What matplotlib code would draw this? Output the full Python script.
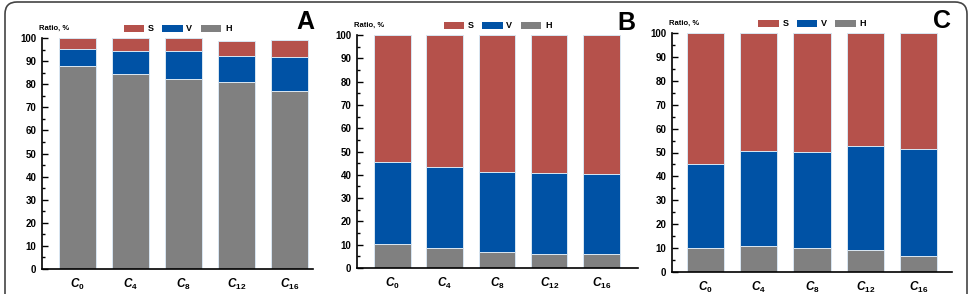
import numpy as np
import matplotlib.pyplot as plt
from matplotlib.patches import FancyBboxPatch
from matplotlib.transforms import IdentityTransform

plt.rcParams['font.family'] = ['Liberation Sans', 'DejaVu Sans']
plt.rcParams['font.weight'] = 'bold'
plt.rcParams['mathtext.fontset'] = 'custom'
plt.rcParams['mathtext.rm'] = 'Liberation Sans:bold'
plt.rcParams['mathtext.it'] = 'Liberation Sans:italic:bold'
plt.rcParams['mathtext.bf'] = 'Liberation Sans:bold'

# Data (ratio, %)
categories = ['0', '4', '8', '12', '16']
series = ['S', 'V', 'H']

A_H = [88.0, 84.3, 82.2, 81.1, 77.2]
A_V = [7.1, 10.1, 12.2, 11.2, 14.7]
A_S = [4.9, 5.6, 5.6, 6.5, 7.1]

B_H = [10.3, 8.6, 6.7, 6.1, 6.0]
B_V = [35.0, 34.7, 34.3, 34.6, 34.4]
B_S = [54.7, 56.7, 59.0, 59.3, 59.6]

C_H = [9.9, 10.9, 9.9, 9.4, 6.9]
C_V = [35.4, 39.7, 40.4, 43.3, 44.6]
C_S = [54.7, 49.4, 49.7, 47.3, 48.5]

colors = {'S': '#b5514b', 'V': '#0052a5', 'H': '#808080'}

W, H = 969, 294
fig = plt.figure(figsize=(W / 100, H / 100), dpi=100)

# axes boxes in pixels: left, right, top(y of 100), bottom(y of 0); xlim
panels = [
    ('A', A_H, A_V, A_S, (42, 313, 38, 269), (-0.675, 4.45), (305, 22)),
    ('B', B_H, B_V, B_S, (357, 638, 35, 268), (-0.68, 4.70), (626, 23)),
    ('C', C_H, C_V, C_S, (672, 952, 33, 272), (-0.63, 4.63), (942, 21)),
]

x = np.arange(len(categories))
xlabels = [r'$C_{\mathrm{%s}}$' % c for c in categories]

for letter, h, v, s, (l, r, t, b), xlim, (lx, ly) in panels:
    ax = fig.add_axes([l / W, 1 - b / H, (r - l) / W, (b - t) / H])
    h = np.array(h)
    v = np.array(v)
    s = np.array(s)
    ec = dict(edgecolor='#d8e6f2', linewidth=0.7)
    ax.bar(x, s, 0.7, bottom=h + v, color=colors['S'], label='S', **ec)
    ax.bar(x, v, 0.7, bottom=h, color=colors['V'], label='V', **ec)
    ax.bar(x, h, 0.7, color=colors['H'], label='H', **ec)

    ax.set_xlim(*xlim)
    ax.set_ylim(0, 100)
    ax.set_yticks(np.arange(0, 101, 10))
    ax.set_yticks(np.arange(5, 100, 10), minor=True)
    ax.set_xticks(x)
    ax.set_xticklabels(xlabels, fontsize=8.5)
    ax.tick_params(axis='x', length=0, pad=6)
    ax.tick_params(axis='y', which='major', direction='in', length=4, width=1, labelsize=7, pad=4)
    ax.tick_params(axis='y', which='minor', direction='in', length=2.5, width=1)
    for sp in ['top', 'right']:
        ax.spines[sp].set_visible(False)
    for sp in ['left', 'bottom']:
        ax.spines[sp].set_linewidth(1.2)

    leg = ax.legend(ncol=3, loc='lower center', bbox_to_anchor=(0.5, 1.0), frameon=False,
                    fontsize=6.5, handlelength=2.3, handleheight=0.85, handletextpad=0.4,
                    columnspacing=0.9, borderaxespad=0.1)
    for hd in leg.legend_handles:
        hd.set_linewidth(0)

    fig.text((l - 3) / W, 1 - (t - 10) / H, 'Ratio, %', fontsize=5.5, ha='left', va='center')
    fig.text(lx / W, 1 - ly / H, letter, fontsize=18, ha='center', va='center')

frame = FancyBboxPatch((5, -20), 962, 312, boxstyle='round,pad=0,rounding_size=12',
                       transform=IdentityTransform(), fill=False, edgecolor='#444444',
                       linewidth=1.2)
fig.patches.append(frame)

plt.savefig('out.png', dpi=100)
plt.close()
